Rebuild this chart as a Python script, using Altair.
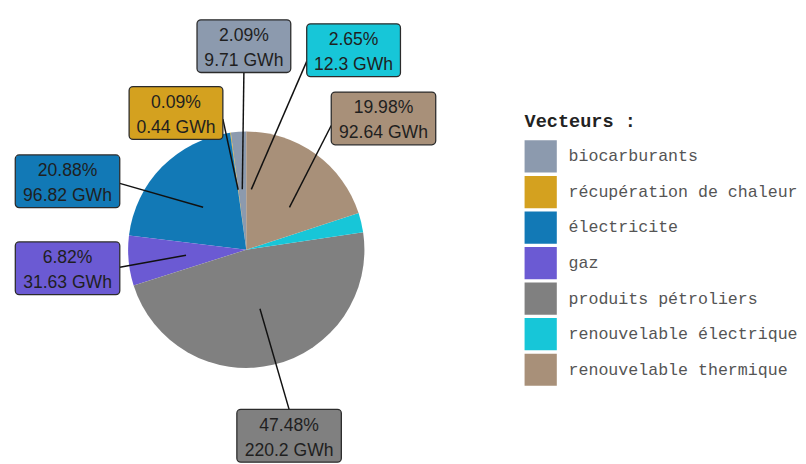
import math
import altair as alt
import pandas as pd

# ---------------- data ----------------
categories = ["biocarburants", "récupération de chaleur", "électricite", "gaz",
              "produits pétroliers", "renouvelable électrique", "renouvelable thermique"]
values_gwh = [9.71, 0.44, 96.82, 31.63, 220.2, 12.3, 92.64]
colors = ["#8C9AAE", "#D4A11F", "#1279B6", "#6B5AD3", "#808080", "#17C6D8", "#A89079"]

# slice drawing order, clockwise from 12 o'clock
pie_order = ["renouvelable thermique", "renouvelable électrique", "produits pétroliers",
             "gaz", "électricite", "récupération de chaleur", "biocarburants"]
# order used to place the leader-line anchors
anchor_order = ["renouvelable électrique", "renouvelable thermique", "produits pétroliers",
                "gaz", "électricite", "récupération de chaleur", "biocarburants"]

# ---------------- label layout (repelled positions) ----------------
label_shift_deg = [3.1, -19.5, -23.6, -0.6, 0.1, 23.5, 0.75]
label_dist_px = [208.5, 157.4, 196, 184, 195.5, 232, 194.5]

W, H = 500, 448
CX, CY = 244, 242
R = 121
ANCHOR_R = 62
BOX_HALF_H = 27

total = sum(values_gwh)
rows = []
cum = 0.0
anchor_mid = {}
for c in anchor_order:
    v = values_gwh[categories.index(c)]
    anchor_mid[c] = (cum + v / 2) / total * 360.0
    cum += v

for i, c in enumerate(categories):
    v = values_gwh[i]
    pct = v / total * 100
    gwh = f"{v:g} GWh"
    a = anchor_mid[c]
    ax = ANCHOR_R * math.sin(math.radians(a))
    ay = ANCHOR_R * math.cos(math.radians(a))
    b = a + label_shift_deg[i]
    bx = label_dist_px[i] * math.sin(math.radians(b))
    by = label_dist_px[i] * math.cos(math.radians(b))
    hw = (11 * len(gwh) + 8) / 2
    x1, x2 = bx - hw, bx + hw
    y1, y2 = by - BOX_HALF_H, by + BOX_HALF_H
    if ax < x1:
        ex, ey = x1, by + 0.08 * (ay - by)
    elif ax > x2:
        ex, ey = x2, by + 0.08 * (ay - by)
    else:
        ex, ey = bx, (y1 if ay < by else y2)
    rows.append(dict(cat=c, value=v, pie_rank=pie_order.index(c),
                     label=f"{pct:.2f}%\n{gwh}",
                     ax=ax, ay=ay, ex=ex, ey=ey, bx=bx, by=by,
                     bx1=x1, bx2=x2, by1=y1, by2=y2))
df = pd.DataFrame(rows)

xs = alt.Scale(domain=[-CX, W - CX], nice=False, zero=False)
ys = alt.Scale(domain=[-(H - CY), CY], nice=False, zero=False)
cs = alt.Scale(domain=categories, range=colors)

base = alt.Chart(df)

arcs = base.mark_arc(radius=R, stroke=None).encode(
    theta=alt.Theta("value:Q", stack=True),
    order=alt.Order("pie_rank:Q"),
    color=alt.Color("cat:N", scale=cs, sort=categories,
                    legend=alt.Legend(title="Vecteurs :", orient="none",
                                      legendX=529, legendY=101,
                                      symbolType="square", symbolSize=1089,
                                      symbolStrokeWidth=0, symbolOpacity=1,
                                      rowPadding=3.4,
                                      labelFont="Liberation Mono", labelFontSize=17,
                                      labelColor="#555555", labelOffset=12,
                                      labelLimit=400,
                                      titleFont="Liberation Mono", titleFontSize=19,
                                      titleFontWeight="bold", titleColor="#222222",
                                      titlePadding=10)),
    x=alt.value(CX), y=alt.value(CY),
)

rules = base.mark_rule(color="#111111", strokeWidth=1.5).encode(
    x=alt.X("ax:Q", scale=xs, axis=None),
    y=alt.Y("ay:Q", scale=ys, axis=None),
    x2="ex:Q", y2="ey:Q",
)

boxes = base.mark_rect(cornerRadius=4, stroke="#2b2b2b", strokeWidth=1.3).encode(
    x=alt.X("bx1:Q", scale=xs, axis=None), x2="bx2:Q",
    y=alt.Y("by1:Q", scale=ys, axis=None), y2="by2:Q",
    color=alt.Color("cat:N", scale=cs),
)

texts = base.mark_text(font="Liberation Sans", fontSize=18, color="#1f1f1f",
                       lineBreak="\n", lineHeight=25.5, dy=-10.25,
                       baseline="middle", align="center").encode(
    x=alt.X("bx:Q", scale=xs, axis=None),
    y=alt.Y("by:Q", scale=ys, axis=None),
    text="label:N",
)

chart = alt.layer(arcs, rules, boxes, texts).properties(
    width=W, height=H, padding=0, background="white"
).configure_view(stroke=None)

chart.save("out.html", embed_options={"renderer": "svg", "actions": False})
